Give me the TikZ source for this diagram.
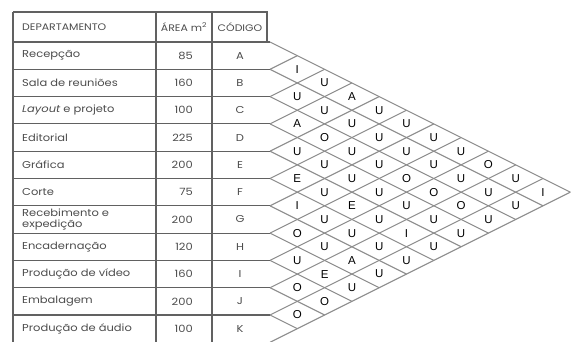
\documentclass[tikz,border=0pt]{standalone}
\usepackage{fontspec}
\setmainfont{Liberation Sans}
\newfontfamily\tabfont[FakeStretch=1.15]{Poppins}
\begin{document}
\begin{tikzpicture}[x=1pt,y=-1pt,
  tabline/.style={draw=black!62, line width=1.1pt},
  gridline/.style={draw=black!45, line width=1.05pt},
  rel/.style={font=\fontsize{11.5}{12}\selectfont, inner sep=0pt, anchor=center},
  dept/.style={font=\tabfont\fontsize{10}{11}\selectfont, text=black!70, anchor=west, inner sep=0pt, align=left},
  num/.style={font=\tabfont\fontsize{10}{11}\selectfont, text=black!70, anchor=east, inner sep=0pt},
  codeletter/.style={font=\tabfont\fontsize{10}{11}\selectfont, text=black!70, inner sep=0pt},
  head/.style={font=\tabfont\fontsize{9.5}{10}\selectfont, text=black!70, inner sep=0pt}]
\useasboundingbox (0,0) rectangle (577,341);
\def\xo{270}\def\bo{42}\def\h{27.3}
% diamond grid
\foreach \k in {0,...,10}
  \draw[gridline] (\xo,{\bo+\k*\h}) -- ++({(11-\k)*\h},{(11-\k)*\h/2});
\foreach \k in {1,...,11}
  \draw[gridline] (\xo,{\bo+\k*\h}) -- ++({\k*\h},{-\k*\h/2});
% table
\draw[tabline] (13,12) -- (267,12) -- (267,42);
\draw[tabline] (13,12) -- (13,345);
\draw[tabline] (156,12) -- (156,345);
\draw[tabline] (212,12) -- (212,345);
\foreach \k in {0,...,11}
  \draw[tabline] (13,{\bo+\k*\h}) -- (\xo,{\bo+\k*\h});
% header
\node[head, anchor=west] (hdep) at (22,27) {DEPARTAMENTO};
\node[head] (harea) at (184,27) {ÁREA m\textsuperscript{2}};
\node[head] (hcod) at (240,27) {CÓDIGO};
% rows
\foreach \n/\name/\area/\c in {
  0/Recepção/85/A,
  1/Sala de reuniões/160/B,
  2/{{\itshape Layout} e projeto}/100/C,
  3/Editorial/225/D,
  4/Gráfica/200/E,
  5/Corte/75/F,
  6/{Recebimento e\\expedição}/200/G,
  7/Encadernação/120/H,
  8/Produção de vídeo/160/I,
  9/Embalagem/200/J,
  10/Produção de áudio/100/K}{
  \node[dept] (d\c) at (22,{\bo+(\n+0.5)*\h}) {\name};
  \node[num] (a\c) at (193,{\bo+(\n+0.5)*\h}) {\area};
  \node[codeletter] (c\c) at (240,{\bo+(\n+0.5)*\h}) {\c};
}
% relationship letters
\foreach \i/\j/\L in {
  0/1/I, 1/2/U, 2/3/A, 3/4/U, 4/5/E, 5/6/I, 6/7/O, 7/8/U, 8/9/O, 9/10/O,
  0/2/U, 1/3/U, 2/4/O, 3/5/U, 4/6/U, 5/7/U, 6/8/U, 7/9/E, 8/10/O,
  0/3/A, 1/4/U, 2/5/U, 3/6/U, 4/7/E, 5/8/U, 6/9/A, 7/10/U,
  0/4/U, 1/5/U, 2/6/U, 3/7/U, 4/8/U, 5/9/U, 6/10/U,
  0/5/U, 1/6/U, 2/7/O, 3/8/U, 4/9/I, 5/10/U,
  0/6/U, 1/7/U, 2/8/O, 3/9/U, 4/10/U,
  0/7/U, 1/8/U, 2/9/O, 3/10/U,
  0/8/O, 1/9/U, 2/10/U,
  0/9/U, 1/10/U,
  0/10/I}{
  \node[rel] (r\i-\j) at ({\xo+(\j-\i)*\h},{\bo+\h/2+(\i+\j)*\h/2}) {\L};
}
\end{tikzpicture}
\end{document}
